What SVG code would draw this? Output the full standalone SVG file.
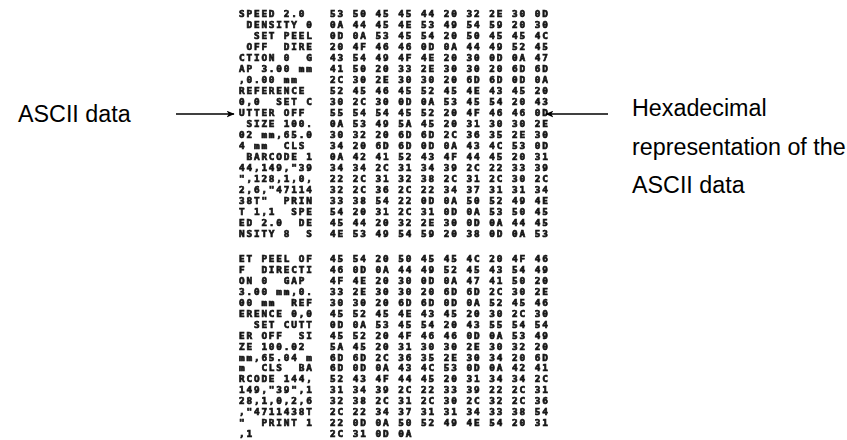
<svg xmlns="http://www.w3.org/2000/svg" width="847" height="440" viewBox="0 0 847 440">
<style>
.pr{font-family:"DejaVu Sans Mono","Liberation Mono",monospace;font-weight:bold;font-size:9.4px;fill:#151515;stroke:#151515;stroke-width:0.7px;white-space:pre;}
.asc{letter-spacing:1.82px;}
.hex{letter-spacing:1.94px;}
.lbl{font-family:"Liberation Sans",Arial,sans-serif;font-size:23.3px;fill:#000;}
.arr{stroke:#000;stroke-width:1.5;fill:none;}
</style>
<defs>
<filter id="soft" x="-5%" y="-5%" width="110%" height="110%"><feGaussianBlur stdDeviation="0.45"/></filter>
<marker id="ah" viewBox="0 0 12 10" refX="11" refY="5" markerWidth="8" markerHeight="7" markerUnits="userSpaceOnUse" orient="auto">
<path d="M0,0 L12,5 L0,10 L3,5 Z" fill="#000"/>
</marker>
</defs>
<rect width="847" height="440" fill="#fff"/>
<g id="printout" filter="url(#soft)">
<g id="ascii-column" class="pr asc">
<text x="239" y="16.5">SPEED&#160;2.0</text>
<text x="239" y="27.5">&#160;DENSITY&#160;0</text>
<text x="239" y="38.5">&#160;&#160;SET&#160;PEEL</text>
<text x="239" y="49.5">&#160;OFF&#160;&#160;DIRE</text>
<text x="239" y="60.5">CTION&#160;0&#160;&#160;G</text>
<text x="239" y="71.5">AP&#160;3.00&#160;mm</text>
<text x="239" y="82.5">,0.00&#160;mm</text>
<text x="239" y="93.5">REFERENCE</text>
<text x="239" y="104.5">0,0&#160;&#160;SET&#160;C</text>
<text x="239" y="115.5">UTTER&#160;OFF</text>
<text x="239" y="126.5">&#160;SIZE&#160;100.</text>
<text x="239" y="137.5">02&#160;mm,65.0</text>
<text x="239" y="148.5">4&#160;mm&#160;&#160;CLS</text>
<text x="239" y="159.5">&#160;BARCODE&#160;1</text>
<text x="239" y="170.5">44,149,"39</text>
<text x="239" y="181.5">",128,1,0,</text>
<text x="239" y="192.5">2,6,"47114</text>
<text x="239" y="203.5">38T"&#160;&#160;PRIN</text>
<text x="239" y="214.5">T&#160;1,1&#160;&#160;SPE</text>
<text x="239" y="225.5">ED&#160;2.0&#160;&#160;DE</text>
<text x="239" y="236.5">NSITY&#160;8&#160;&#160;S</text>
<text x="239" y="261.5">ET&#160;PEEL&#160;OF</text>
<text x="239" y="272.5">F&#160;&#160;DIRECTI</text>
<text x="239" y="283.5">ON&#160;0&#160;&#160;GAP</text>
<text x="239" y="294.5">3.00&#160;mm,0.</text>
<text x="239" y="305.5">00&#160;mm&#160;&#160;REF</text>
<text x="239" y="316.5">ERENCE&#160;0,0</text>
<text x="239" y="327.5">&#160;&#160;SET&#160;CUTT</text>
<text x="239" y="338.5">ER&#160;OFF&#160;&#160;SI</text>
<text x="239" y="349.5">ZE&#160;100.02</text>
<text x="239" y="360.5">mm,65.04&#160;m</text>
<text x="239" y="371">m&#160;&#160;CLS&#160;&#160;BA</text>
<text x="239" y="382">RCODE&#160;144,</text>
<text x="239" y="393">149,"39",1</text>
<text x="239" y="404">28,1,0,2,6</text>
<text x="239" y="415">,"4711438T</text>
<text x="239" y="426">"&#160;&#160;PRINT&#160;1</text>
<text x="239" y="437">,1</text>
</g>
<g id="hex-column" class="pr hex">
<text x="330" y="16.5">53 50 45 45 44 20 32 2E 30 0D</text>
<text x="330" y="27.5">0A 44 45 4E 53 49 54 59 20 30</text>
<text x="330" y="38.5">0D 0A 53 45 54 20 50 45 45 4C</text>
<text x="330" y="49.5">20 4F 46 46 0D 0A 44 49 52 45</text>
<text x="330" y="60.5">43 54 49 4F 4E 20 30 0D 0A 47</text>
<text x="330" y="71.5">41 50 20 33 2E 30 30 20 6D 6D</text>
<text x="330" y="82.5">2C 30 2E 30 30 20 6D 6D 0D 0A</text>
<text x="330" y="93.5">52 45 46 45 52 45 4E 43 45 20</text>
<text x="330" y="104.5">30 2C 30 0D 0A 53 45 54 20 43</text>
<text x="330" y="115.5">55 54 54 45 52 20 4F 46 46 0D</text>
<text x="330" y="126.5">0A 53 49 5A 45 20 31 30 30 2E</text>
<text x="330" y="137.5">30 32 20 6D 6D 2C 36 35 2E 30</text>
<text x="330" y="148.5">34 20 6D 6D 0D 0A 43 4C 53 0D</text>
<text x="330" y="159.5">0A 42 41 52 43 4F 44 45 20 31</text>
<text x="330" y="170.5">34 34 2C 31 34 39 2C 22 33 39</text>
<text x="330" y="181.5">22 2C 31 32 38 2C 31 2C 30 2C</text>
<text x="330" y="192.5">32 2C 36 2C 22 34 37 31 31 34</text>
<text x="330" y="203.5">33 38 54 22 0D 0A 50 52 49 4E</text>
<text x="330" y="214.5">54 20 31 2C 31 0D 0A 53 50 45</text>
<text x="330" y="225.5">45 44 20 32 2E 30 0D 0A 44 45</text>
<text x="330" y="236.5">4E 53 49 54 59 20 38 0D 0A 53</text>
<text x="330" y="261.5">45 54 20 50 45 45 4C 20 4F 46</text>
<text x="330" y="272.5">46 0D 0A 44 49 52 45 43 54 49</text>
<text x="330" y="283.5">4F 4E 20 30 0D 0A 47 41 50 20</text>
<text x="330" y="294.5">33 2E 30 30 20 6D 6D 2C 30 2E</text>
<text x="330" y="305.5">30 30 20 6D 6D 0D 0A 52 45 46</text>
<text x="330" y="316.5">45 52 45 4E 43 45 20 30 2C 30</text>
<text x="330" y="327.5">0D 0A 53 45 54 20 43 55 54 54</text>
<text x="330" y="338.5">45 52 20 4F 46 46 0D 0A 53 49</text>
<text x="330" y="349.5">5A 45 20 31 30 30 2E 30 32 20</text>
<text x="330" y="360.5">6D 6D 2C 36 35 2E 30 34 20 6D</text>
<text x="330" y="371">6D 0D 0A 43 4C 53 0D 0A 42 41</text>
<text x="330" y="382">52 43 4F 44 45 20 31 34 34 2C</text>
<text x="330" y="393">31 34 39 2C 22 33 39 22 2C 31</text>
<text x="330" y="404">32 38 2C 31 2C 30 2C 32 2C 36</text>
<text x="330" y="415">2C 22 34 37 31 31 34 33 38 54</text>
<text x="330" y="426">22 0D 0A 50 52 49 4E 54 20 31</text>
<text x="330" y="437">2C 31 0D 0A</text>
</g>
</g>
<g id="label-ascii">
<text class="lbl" x="18" y="121.5">ASCII data</text>
</g>
<g id="label-hex">
<text class="lbl" x="632" y="116">Hexadecimal</text>
<text class="lbl" x="632" y="154.5">representation of the</text>
<text class="lbl" x="632" y="193">ASCII data</text>
</g>
<g id="connectors">
<line class="arr" x1="176" y1="114" x2="234" y2="114" marker-end="url(#ah)"/>
<line class="arr" x1="608" y1="114" x2="546" y2="114" marker-end="url(#ah)"/>
</g>
</svg>
